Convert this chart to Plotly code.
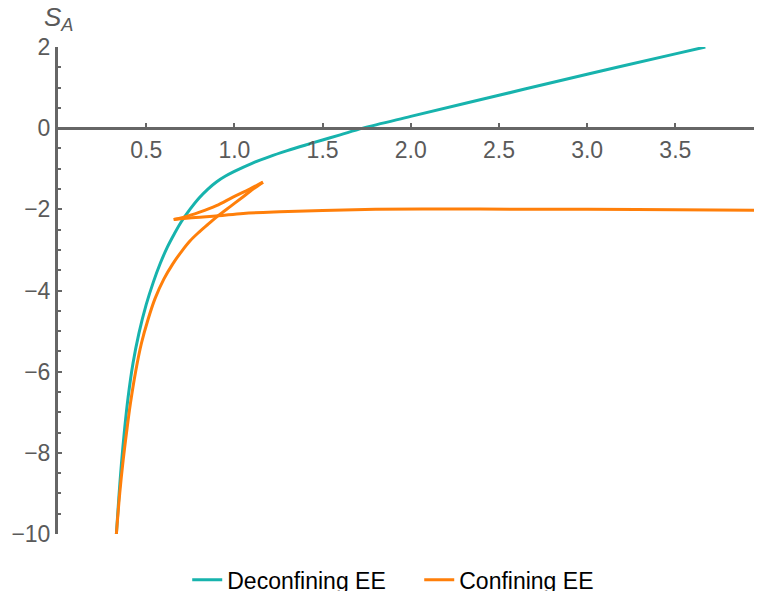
import plotly.graph_objects as go

# Entanglement entropy S_A versus strip width l
decon_l = [0.331, 0.345, 0.359, 0.378, 0.397, 0.425, 0.459, 0.500, 0.540, 0.580,
           0.620, 0.660, 0.700, 0.750, 0.800, 0.850, 0.900, 0.950, 1.000, 1.100,
           1.200, 1.300, 1.400, 1.500, 1.600, 1.729, 2.000, 2.500, 3.000, 3.500, 3.670]
decon_s = [-10.0, -9.10, -8.30, -7.40, -6.65, -5.80, -5.05, -4.35, -3.80, -3.33,
           -2.93, -2.60, -2.30, -1.99, -1.72, -1.50, -1.32, -1.18, -1.065, -0.865,
           -0.70, -0.555, -0.42, -0.29, -0.165, 0.00, 0.29, 0.81, 1.33, 1.83, 2.00]

# Confining branches: lower branch up to the cusp, back-branch to the left cusp,
# then the disconnected branch that levels off at S_A = -2
conf_lower_l = [0.331, 0.350, 0.369, 0.390, 0.410, 0.440, 0.473, 0.510, 0.550, 0.600,
                0.650, 0.700, 0.748, 0.800, 0.850, 0.907, 0.980, 1.050, 1.100, 1.162]
conf_lower_s = [-10.0, -9.00, -8.20, -7.45, -6.80, -6.00, -5.30, -4.72, -4.20, -3.72,
                -3.35, -3.04, -2.78, -2.56, -2.37, -2.16, -1.92, -1.69, -1.52, -1.33]
conf_back_l = [1.162, 1.087, 0.992, 0.898, 0.803, 0.709, 0.656]
conf_back_s = [-1.33, -1.50, -1.70, -1.91, -2.07, -2.20, -2.25]
conf_flat_l = [0.656, 0.780, 0.907, 1.050, 1.257, 1.500, 1.800, 2.200, 2.600, 3.000, 3.500, 3.950]
conf_flat_s = [-2.25, -2.20, -2.16, -2.10, -2.06, -2.03, -2.00, -1.99, -2.00, -2.00, -2.01, -2.02]

x_ticks = [0.5, 1.0, 1.5, 2.0, 2.5, 3.0, 3.5]
x_tick_text = ["0.5", "1.0", "1.5", "2.0", "2.5", "3.0", "3.5"]

TEAL = "#17b3ad"
ORANGE = "#ff7f0a"
AXIS = "#666666"
LABEL = "#5a5a5a"
FONT = "Liberation Sans"

conf_l = conf_lower_l + [None] + conf_back_l + [None] + conf_flat_l
conf_s = conf_lower_s + [None] + conf_back_s + [None] + conf_flat_s

fig = go.Figure()
fig.add_trace(go.Scatter(x=decon_l, y=decon_s, mode="lines", name="Deconfining EE",
                         line=dict(color=TEAL, width=3, shape="spline", smoothing=1.0)))
fig.add_trace(go.Scatter(x=conf_l, y=conf_s, mode="lines", name="Confining EE",
                         connectgaps=False,
                         line=dict(color=ORANGE, width=3, shape="spline", smoothing=1.0)))

fig.update_layout(
    width=766, height=591,
    margin=dict(l=58, r=12, t=47, b=57, autoexpand=False),
    paper_bgcolor="white", plot_bgcolor="white",
    font=dict(family=FONT, size=23, color=LABEL),
    showlegend=True,
    legend=dict(orientation="h", x=0.519, xanchor="center", y=-0.094, yanchor="middle",
                font=dict(family=FONT, size=23, color="black"), itemwidth=30,
                entrywidth=187, entrywidthmode="pixels",
                bgcolor="rgba(0,0,0,0)"),
    xaxis=dict(range=[0, 3.946], anchor="free", position=10 / 12,
               showline=True, linecolor=AXIS, linewidth=3,
               tickmode="array", tickvals=x_ticks, ticktext=x_tick_text,
               ticks="inside", ticklen=4, tickwidth=2, tickcolor=AXIS,
               showgrid=False, zeroline=False,
               tickfont=dict(family=FONT, size=23, color=LABEL)),
    yaxis=dict(range=[-10, 2], showline=True, linecolor=AXIS, linewidth=3,
               tick0=0, dtick=2, ticks="inside", ticklen=4, tickwidth=2, tickcolor=AXIS,
               minor=dict(dtick=0.5, ticks="inside", ticklen=3, tickwidth=2, tickcolor=AXIS),
               showgrid=False, zeroline=False,
               tickfont=dict(family=FONT, size=23, color=LABEL)),
)

fig.add_annotation(text="<i>S</i><sub><i>A</i></sub>", xref="paper", yref="paper",
                   x=0.0, y=1.058, xanchor="center", yanchor="middle", showarrow=False,
                   font=dict(family=FONT, size=26, color=LABEL))

fig.write_html("out.html")
